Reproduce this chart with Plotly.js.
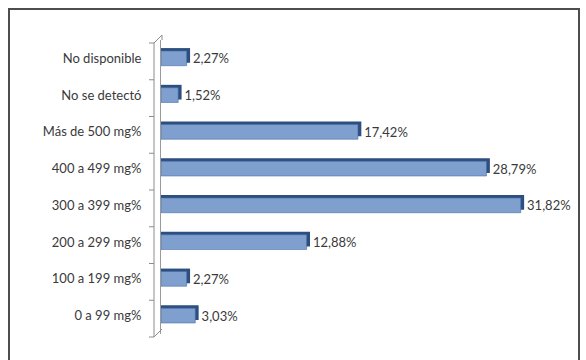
<!DOCTYPE html>
<html><head><meta charset="utf-8">
<script src="https://cdn.plot.ly/plotly-3.0.1.min.js"></script>
<style>html,body{margin:0;padding:0;background:#fff;}#chart{width:586px;height:360px;}</style>
</head><body><div id="chart"></div>
<script>
const categories = ["No disponible","No se detectó","Más de 500 mg%","400 a 499 mg%","300 a 399 mg%","200 a 299 mg%","100 a 199 mg%","0 a 99 mg%"];
const values = [2.27, 1.52, 17.42, 28.79, 31.82, 12.88, 2.27, 3.03];
const depth = 0.3;

const back = {
  type:'bar', orientation:'h', y:categories, x:values.map(v=>v+depth),
  width:0.4, offset:-0.28, marker:{color:'#2c4f80'}, hoverinfo:'skip'
};
const front = {
  type:'bar', orientation:'h', y:categories, x:values,
  width:0.4, offset:-0.2,
  marker:{color:'#7f9fcf', line:{color:'#4a6fa5', width:0.6}}, hoverinfo:'skip',
  texttemplate:'\u00a0%{x:.2f}%', textposition:'outside', cliponaxis:false, constraintext:'none',
  textfont:{family:'Lato, "Open Sans", sans-serif', size:13, color:'#3a3a3a'},
  outsidetextfont:{family:'Lato, "Open Sans", sans-serif', size:13, color:'#3a3a3a'}
};

const px = v => (v-161)/407;
const py = v => (334-v)/294;
const shapes = [
  {type:'rect', xref:'paper', yref:'paper', x0:px(9), x1:px(579), y0:py(366), y1:py(9), line:{color:'#4d4d4d', width:2}},
  {type:'line', xref:'paper', yref:'paper', x0:px(154), x1:px(154), y0:py(337), y1:py(43), line:{color:'#8c8c8c', width:1}},
  {type:'line', xref:'paper', yref:'paper', x0:px(154), x1:px(162), y0:py(43), y1:py(35), line:{color:'#8c8c8c', width:1}},
  {type:'line', xref:'paper', yref:'paper', x0:px(162), x1:px(162), y0:py(40), y1:py(35), line:{color:'#8c8c8c', width:1}},
  {type:'line', xref:'paper', yref:'paper', x0:px(154), x1:px(162), y0:py(337), y1:py(329), line:{color:'#8c8c8c', width:1}}
];
for (let i=0;i<=categories.length;i++){
  const yy = 43 + i*36.75;
  shapes.push({type:'line', xref:'paper', yref:'paper', x0:px(149), x1:px(154), y0:py(yy), y1:py(yy), line:{color:'#8c8c8c', width:1}});
}

const layout = {
  width:586, height:360, margin:{l:161, r:18, t:40, b:26},
  paper_bgcolor:'#fff', plot_bgcolor:'rgba(0,0,0,0)',
  showlegend:false, barmode:'overlay', separators:',.',
  xaxis:{range:[0,36], showgrid:false, zeroline:false, showticklabels:false, ticks:'', showline:false, fixedrange:true},
  yaxis:{autorange:'reversed', showgrid:false, zeroline:false, ticks:'', showline:true, linecolor:'#9a9a9a', linewidth:1,
         ticklabelstandoff:16, tickfont:{family:'Lato, "Open Sans", sans-serif', size:13, color:'#3a3a3a'}},
  shapes:shapes
};
Plotly.newPlot('chart',[back,front],layout,{staticPlot:true});
</script></body></html>
